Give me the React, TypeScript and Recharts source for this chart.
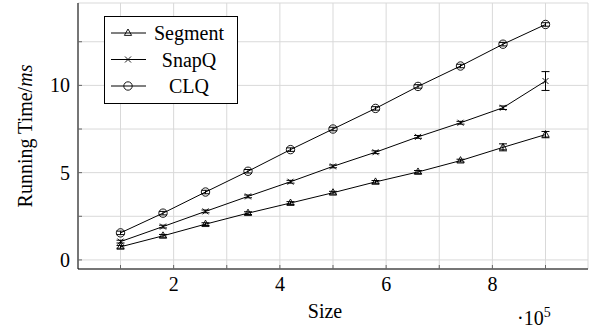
import { LineChart, Line, XAxis, YAxis, CartesianGrid, ErrorBar, Label } from 'recharts'

const sizes = [1, 1.8, 2.6, 3.4, 4.2, 5.0, 5.8, 6.6, 7.4, 8.2, 9.0]
const segment = [0.75, 1.38, 2.05, 2.68, 3.26, 3.85, 4.47, 5.04, 5.69, 6.45, 7.18]
const segmentErr = [0.08, 0.08, 0.08, 0.08, 0.08, 0.08, 0.08, 0.08, 0.08, 0.2, 0.18]
const snapq = [1.05, 1.91, 2.78, 3.64, 4.48, 5.36, 6.17, 7.05, 7.86, 8.72, 10.25]
const snapqErr = [0.08, 0.08, 0.08, 0.08, 0.08, 0.08, 0.08, 0.08, 0.08, 0.1, 0.54]
const clq = [1.55, 2.68, 3.89, 5.08, 6.32, 7.5, 8.68, 9.94, 11.11, 12.36, 13.49]
const clqErr = [0.1, 0.1, 0.1, 0.1, 0.1, 0.1, 0.1, 0.1, 0.1, 0.1, 0.1]
const xTicks = [1, 2, 3, 4, 5, 6, 7, 8, 9]
const yTicks = [0, 2.5, 5, 7.5, 10, 12.5]

const data = sizes.map((s, i) => ({
  size: s,
  segment: segment[i], segmentErr: segmentErr[i],
  snapq: snapq[i], snapqErr: snapqErr[i],
  clq: clq[i], clqErr: clqErr[i],
}))

const FONT = '"Liberation Serif", "DejaVu Serif", serif'

const Tri = ({ cx, cy }: any) =>
  <path d={`M${cx},${cy - 4} L${cx + 3.6},${cy + 2.4} L${cx - 3.6},${cy + 2.4} Z`} fill="none" stroke="#000" strokeWidth={0.9} />
const Cross = ({ cx, cy }: any) =>
  <path d={`M${cx - 3},${cy - 3} L${cx + 3},${cy + 3} M${cx - 3},${cy + 3} L${cx + 3},${cy - 3}`} stroke="#000" strokeWidth={0.9} />
const Circ = ({ cx, cy }: any) =>
  <circle cx={cx} cy={cy} r={4.2} fill="none" stroke="#000" strokeWidth={0.9} />

const legendItems = [
  { name: 'Segment', M: Tri },
  { name: 'SnapQ', M: Cross },
  { name: 'CLQ', M: Circ },
]

const Legend = () => (
  <svg width={134} height={88} style={{ position: 'absolute', left: 104, top: 16 }}>
    <rect x={0.5} y={0.5} width={133} height={87} fill="#fff" stroke="#000" />
    {legendItems.map((it, i) => {
      const y = 17 + i * 26.5
      return <g key={it.name}>
        <line x1={7} x2={42} y1={y} y2={y} stroke="#000" />
        <it.M cx={24} cy={y} />
        <text x={85} y={y} dy="0.35em" textAnchor="middle" fontFamily={FONT} fontSize={20}>{it.name}</text>
      </g>
    })}
  </svg>
)

const tickStyle = { fontSize: 20, fill: '#000', fontFamily: FONT }

export default function App() {
  return (
    <div style={{ position: 'relative', width: 590, height: 331, background: '#fff' }}>
      <style>{'body{margin:0}'}</style>
      <LineChart width={590} height={331} data={data} margin={{ top: 3, right: 2, bottom: 0, left: 0 }}>
        <CartesianGrid stroke="#d9d9d9" strokeWidth={1} />
        <XAxis dataKey="size" type="number" domain={[0.2, 9.8]} ticks={xTicks} allowDataOverflow
          tickFormatter={(v: number) => (v % 2 === 0 ? String(v) : '')}
          tick={tickStyle} tickSize={-4} tickMargin={12} height={62}
          axisLine={{ stroke: '#000' }} tickLine={{ stroke: '#666' }}>
          <Label content={({ viewBox }: any) => (
            <g fontFamily={FONT} fill="#000">
              <text x={325} y={viewBox.y + 49} textAnchor="middle" fontSize={20}>Size</text>
              <text x={517} y={viewBox.y + 56} fontSize={20}>·10<tspan dy={-8} fontSize={14}>5</tspan></text>
            </g>
          )} />
        </XAxis>
        <XAxis xAxisId="t" orientation="top" type="number" domain={[0.2, 9.8]} ticks={xTicks} height={0}
          tickFormatter={() => ''} tickSize={-4} axisLine={{ stroke: '#000' }} tickLine={{ stroke: '#666' }} />
        <YAxis type="number" domain={[-0.52, 14.72]} ticks={yTicks} allowDataOverflow width={78}
          tickFormatter={(v: number) => (v % 5 === 0 ? String(v) : '')}
          tick={tickStyle} tickSize={-4} tickMargin={12}
          axisLine={{ stroke: '#000' }} tickLine={{ stroke: '#666' }}>
          <Label content={({ viewBox }: any) => {
            const x = 25, y = viewBox.y + viewBox.height / 2
            return <text x={x} y={y} dy="0.35em" textAnchor="middle" transform={`rotate(-90 ${x} ${y})`}
              fontFamily={FONT} fontSize={20} fill="#000">Running Time/<tspan fontStyle="italic">ms</tspan></text>
          }} />
        </YAxis>
        <YAxis yAxisId="r" orientation="right" type="number" domain={[-0.52, 14.72]} ticks={yTicks} width={0}
          tickFormatter={() => ''} tickSize={-4} axisLine={{ stroke: '#000' }} tickLine={{ stroke: '#666' }} />
        <Line dataKey="segment" stroke="#000" strokeWidth={1} isAnimationActive={false}
          dot={(p: any) => <Tri key={p.index} cx={p.cx} cy={p.cy} />}>
          <ErrorBar dataKey="segmentErr" direction="y" width={4} stroke="#000" strokeWidth={1} />
        </Line>
        <Line dataKey="snapq" stroke="#000" strokeWidth={1} isAnimationActive={false}
          dot={(p: any) => <Cross key={p.index} cx={p.cx} cy={p.cy} />}>
          <ErrorBar dataKey="snapqErr" direction="y" width={4} stroke="#000" strokeWidth={1} />
        </Line>
        <Line dataKey="clq" stroke="#000" strokeWidth={1} isAnimationActive={false}
          dot={(p: any) => <Circ key={p.index} cx={p.cx} cy={p.cy} />}>
          <ErrorBar dataKey="clqErr" direction="y" width={4} stroke="#000" strokeWidth={1} />
        </Line>
      </LineChart>
      <Legend />
    </div>
  )
}
